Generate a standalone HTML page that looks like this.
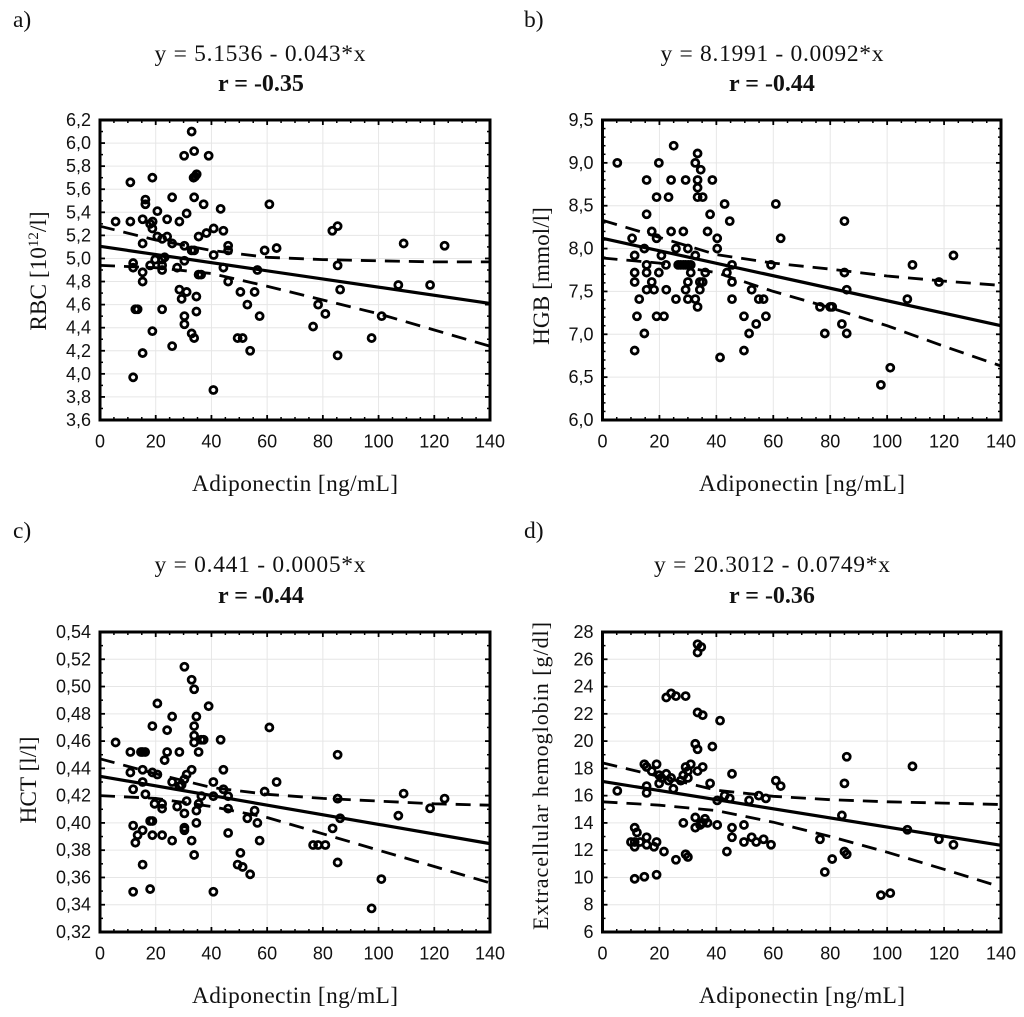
<!DOCTYPE html>
<html lang="en">
<head>
<meta charset="utf-8">
<title>Adiponectin correlations</title>
<style>
html,body{margin:0;padding:0;background:#fff;}
svg{display:block;filter:blur(0.35px);}
.serif{font-family:"Liberation Serif",serif;fill:#111;}
.sans{font-family:"Liberation Sans",sans-serif;fill:#111;}
</style>
</head>
<body>
<svg id="figure" xmlns="http://www.w3.org/2000/svg" width="1024" height="1017" viewBox="0 0 1024 1017">
  <rect width="1024" height="1017" fill="#fff"/>

  <g id="panel-a">
    <text class="serif" x="13" y="27" font-size="23.5">a)</text>
    <text class="serif" x="260" y="61" font-size="23.5" text-anchor="middle" textLength="211" lengthAdjust="spacing">y = 5.1536 - 0.043*x</text>
    <text class="serif" x="261" y="91" font-size="24" font-weight="bold" text-anchor="middle">r = -0.35</text>
    <text class="serif" x="295" y="491" font-size="23.3" text-anchor="middle" textLength="206" lengthAdjust="spacing">Adiponectin [ng/mL]</text>
    <text class="serif" transform="translate(46,271) rotate(-90)" font-size="23.3" text-anchor="middle">RBC [10<tspan font-size="15" dy="-8">12</tspan><tspan dy="8">/l]</tspan></text>
  </g>

  <g id="panel-b">
    <text class="serif" x="524" y="27" font-size="23.5">b)</text>
    <text class="serif" x="772" y="61" font-size="23.5" text-anchor="middle" textLength="223" lengthAdjust="spacing">y = 8.1991 - 0.0092*x</text>
    <text class="serif" x="772" y="91" font-size="24" font-weight="bold" text-anchor="middle">r = -0.44</text>
    <text class="serif" x="802" y="491" font-size="23.3" text-anchor="middle" textLength="206" lengthAdjust="spacing">Adiponectin [ng/mL]</text>
    <text class="serif" transform="translate(549,276) rotate(-90)" font-size="23.3" text-anchor="middle">HGB [mmol/l]</text>
  </g>

  <g id="panel-c">
    <text class="serif" x="13" y="538" font-size="23.5">c)</text>
    <text class="serif" x="260" y="572" font-size="23.5" text-anchor="middle" textLength="211" lengthAdjust="spacing">y = 0.441 - 0.0005*x</text>
    <text class="serif" x="261" y="603" font-size="24" font-weight="bold" text-anchor="middle">r = -0.44</text>
    <text class="serif" x="295" y="1003" font-size="23.3" text-anchor="middle" textLength="206" lengthAdjust="spacing">Adiponectin [ng/mL]</text>
    <text class="serif" transform="translate(36,780) rotate(-90)" font-size="23.3" text-anchor="middle">HCT [l/l]</text>
  </g>

  <g id="panel-d">
    <text class="serif" x="524" y="538" font-size="23.5">d)</text>
    <text class="serif" x="772" y="572" font-size="23.5" text-anchor="middle" textLength="236" lengthAdjust="spacing">y = 20.3012 - 0.0749*x</text>
    <text class="serif" x="772" y="603" font-size="24" font-weight="bold" text-anchor="middle">r = -0.36</text>
    <text class="serif" x="802" y="1003" font-size="23.3" text-anchor="middle" textLength="206" lengthAdjust="spacing">Adiponectin [ng/mL]</text>
    <text class="serif" transform="translate(548,776) rotate(-90)" font-size="22" text-anchor="middle" textLength="308" lengthAdjust="spacing">Extracellular hemoglobin [g/dl]</text>
  </g>
</svg>

<script>
// Shared axis values
const xTicks = [0, 20, 40, 60, 80, 100, 120, 140];
const ciX = [0, 20, 40, 60, 80, 100, 120, 140];
const fitX = [0, 140];

// Panel a: RBC
const aYTicks = [3.6, 3.8, 4.0, 4.2, 4.4, 4.6, 4.8, 5.0, 5.2, 5.4, 5.6, 5.8, 6.0, 6.2];
const aX = [32.9,30.2,33.8,39.0,34.7,34.1,33.6,18.8,10.9,16.3,16.3,25.9,33.8,37.2,43.3,60.8,20.6,31.1,5.6,10.9,15.3,18.9,18.0,18.8,24.1,28.5,40.8,38.2,35.4,44.3,20.6,24.1,22.3,25.9,15.3,30.3,46,46,59.1,63.4,32.9,33.8,40.8,23.2,19.8,22.3,30.3,11.9,11.9,18,22.3,22.3,15.3,27.7,44.3,56.5,35.4,36.3,15.3,46,28.5,31.1,29.3,34.6,50.4,55.5,52.9,57.3,12.7,13.5,22.3,34.6,30.3,30.3,18.8,32.9,33.8,49.4,51.2,53.9,25.9,15.3,11.9,40.7,85.3,83.4,109,123.7,85.3,86.2,107.1,118.5,78.3,80.9,76.5,101.1,97.5,85.3];
const aY = [6.10,5.89,5.93,5.89,5.73,5.71,5.70,5.70,5.66,5.51,5.47,5.53,5.53,5.47,5.43,5.47,5.41,5.39,5.32,5.32,5.34,5.32,5.30,5.26,5.34,5.32,5.26,5.22,5.19,5.24,5.19,5.19,5.17,5.13,5.13,5.11,5.11,5.07,5.07,5.09,5.07,5.07,5.03,5.01,4.99,4.99,4.98,4.96,4.92,4.94,4.94,4.90,4.88,4.92,4.92,4.90,4.86,4.86,4.80,4.80,4.73,4.71,4.65,4.67,4.71,4.71,4.60,4.50,4.56,4.56,4.56,4.54,4.50,4.43,4.37,4.35,4.31,4.31,4.31,4.20,4.24,4.18,3.97,3.86,5.28,5.24,5.13,5.11,4.94,4.73,4.77,4.77,4.60,4.52,4.41,4.50,4.31,4.16];
const aFit = [5.105, 4.61];
const aUpper = [5.28,5.16,5.07,5.01,4.99,4.98,4.97,4.97];
const aLower = [4.94,4.92,4.87,4.76,4.64,4.52,4.38,4.24];

// Panel b: HGB
const bYTicks = [6.0, 6.5, 7.0, 7.5, 8.0, 8.5, 9.0, 9.5];
const bX = [25,33.4,5.2,19.8,32.6,34.5,15.5,24.1,29.2,33.4,38.6,33.4,19,23.2,33.4,35.2,42.9,60.9,15.5,37.8,44.7,17.3,24.1,28.4,36.9,10.4,19,40.3,62.6,14.7,25.8,30,40.3,11.3,20.7,32.6,15.5,22.3,59.2,45.5,26.6,27.5,28.4,29.2,30.1,31,11.3,15.5,19.8,31,36.1,43.7,11.3,17.3,30,34.2,35.2,45.5,15.5,18.1,22.4,29.2,34.2,52.4,12.9,25.8,30,32.6,45.5,54.9,56.6,33.4,12.1,19,21.6,49.7,57.4,54,14.7,51.5,11.3,49.7,41.3,85,123.3,108.9,85,118.2,85.8,107.1,76.4,80.7,80,84.1,78.1,85.8,101.1,97.8];
const bY = [9.20,9.11,9.0,9.0,9.0,8.92,8.80,8.80,8.80,8.80,8.80,8.71,8.60,8.60,8.60,8.60,8.52,8.52,8.40,8.40,8.32,8.20,8.20,8.20,8.20,8.12,8.12,8.12,8.12,8.0,8.0,8.0,8.0,7.92,7.92,7.92,7.81,7.81,7.81,7.81,7.81,7.81,7.81,7.81,7.81,7.81,7.72,7.72,7.72,7.72,7.72,7.72,7.61,7.61,7.61,7.61,7.61,7.61,7.52,7.52,7.52,7.52,7.52,7.52,7.41,7.41,7.41,7.41,7.41,7.41,7.41,7.32,7.21,7.21,7.21,7.21,7.21,7.12,7.01,7.01,6.81,6.81,6.73,8.32,7.92,7.81,7.72,7.61,7.52,7.41,7.32,7.32,7.32,7.12,7.01,7.01,6.61,6.41];
const bFit = [8.12, 7.10];
const bUpper = [8.33,8.13,7.93,7.83,7.76,7.68,7.62,7.57];
const bLower = [7.89,7.83,7.72,7.50,7.31,7.10,6.86,6.63];

// Panel c: HCT
const cYTicks = [0.32,0.34,0.36,0.38,0.40,0.42,0.44,0.46,0.48,0.50,0.52,0.54];
const cX = [30.3,32.9,33.8,20.6,39,25.9,34.6,18.8,33.8,24.1,60.8,33.8,36.3,37.2,43.3,33.8,5.6,10.9,14.7,15.3,16.2,24.1,28.5,35.4,23.2,15.3,32.9,44.3,10.9,18.8,20.6,31.1,30.3,15.3,25.9,40.7,63.4,29.3,28.5,11.9,44.3,59.1,16.3,46,36.4,40.7,31.1,19.6,22.3,35.4,27.7,22.3,46,30.3,34.6,55.5,52.9,56.5,18,18.8,34.6,11.9,15.3,30.3,30.3,46,13.5,18.8,22.3,12.7,25.9,32.9,57.3,50.4,33.8,15.3,49.4,51.2,53.9,11.9,18,40.7,85.3,109,85.3,85.3,123.7,118.5,107.1,86.2,83.5,76.5,78.3,80.9,85.3,101,97.5];
const cY = [0.5145,0.505,0.498,0.4876,0.4856,0.478,0.478,0.471,0.471,0.468,0.470,0.464,0.461,0.461,0.461,0.459,0.459,0.452,0.452,0.452,0.452,0.452,0.452,0.452,0.446,0.439,0.439,0.439,0.437,0.437,0.4355,0.4355,0.432,0.430,0.430,0.430,0.430,0.428,0.427,0.4247,0.4247,0.423,0.421,0.4196,0.4196,0.4196,0.416,0.414,0.414,0.414,0.412,0.4105,0.4105,0.407,0.409,0.409,0.4034,0.400,0.4014,0.4014,0.400,0.398,0.3946,0.3965,0.3946,0.3926,0.391,0.391,0.391,0.3855,0.387,0.387,0.387,0.378,0.3765,0.3694,0.3694,0.3677,0.3623,0.3495,0.3515,0.3495,0.450,0.4215,0.4178,0.4178,0.4178,0.4107,0.4053,0.4034,0.396,0.3838,0.3838,0.3838,0.371,0.3588,0.3373];
const cFit = [0.4342, 0.3848];
const cUpper = [0.447,0.436,0.426,0.421,0.418,0.416,0.414,0.413];
const cLower = [0.420,0.418,0.412,0.404,0.392,0.380,0.368,0.356];

// Panel d: extracellular hemoglobin
const dYTicks = [6,8,10,12,14,16,18,20,22,24,26,28];
const dX = [33.4,34.7,33.4,24.1,22.4,25.8,29.2,33.4,35.2,41.3,32.6,33.4,38.6,14.7,15.5,19,31,29.2,35.2,17.3,33.4,30,45.5,22.4,19.9,28.4,24.1,23.2,20.7,30,27.5,60.9,37.8,19.9,62.6,15.5,24.9,15.5,5.2,42.9,54.9,44.7,57.4,40.3,51.5,32.6,36,35.2,36.9,34.3,32.6,28.4,40.3,49.7,45.5,11.3,12.1,45.5,15.5,52.4,56.6,19,49.7,54,59.2,15.5,10,11.3,11.3,18.1,13.2,21.6,43.7,29.2,30,25.8,11.3,14.7,19,85.8,108.9,85,84.1,107.1,118.2,123.3,76.4,85,85.8,80.7,78.1,101.1,97.8];
const dY = [27.1,26.9,26.5,23.5,23.2,23.3,23.3,22.1,21.9,21.5,19.8,19.4,19.6,18.3,18.1,18.3,18.3,18.1,18.1,17.8,17.8,17.8,17.6,17.6,17.5,17.5,17.3,17.1,17.3,17.3,17.1,17.1,16.9,16.9,16.7,16.7,16.5,16.2,16.35,16.0,16.0,15.8,15.8,15.65,15.65,14.4,14.3,14.0,14.0,13.85,13.65,14.0,13.85,13.85,13.65,13.65,13.3,12.95,12.95,12.95,12.8,12.6,12.6,12.6,12.4,12.4,12.6,12.6,12.25,12.25,12.6,11.9,11.9,11.7,11.5,11.3,9.9,10.05,10.2,18.85,18.15,16.9,14.55,13.5,12.8,12.4,12.8,11.9,11.7,11.35,10.4,8.85,8.7];
const dFit = [17.04, 12.36];
const dUpper = [18.4,17.4,16.4,15.95,15.7,15.55,15.45,15.35];
const dLower = [15.55,15.3,14.9,14.05,13,11.85,10.6,9.3];

const NS = 'http://www.w3.org/2000/svg';

function make(parent, tag, attrs) {
  const el = document.createElementNS(NS, tag);
  for (const k in attrs) el.setAttribute(k, attrs[k]);
  parent.appendChild(el);
  return el;
}

function drawPanel(cfg) {
  const group = document.getElementById('panel-' + cfg.id);
  const sx = v => cfg.left + (v - 0) / 140 * (cfg.right - cfg.left);
  const sy = v => cfg.bottom - (v - cfg.yMin) / (cfg.yMax - cfg.yMin) * (cfg.bottom - cfg.top);

  // Grid
  const grid = make(group, 'g', {stroke: '#e6e6e6', 'stroke-width': 1, fill: 'none'});
  
  
  xTicks.slice(1, -1).forEach(v => {
    const line = make(grid, 'line', {x1: sx(v), x2: sx(v), y1: cfg.top, y2: cfg.bottom});
    
    
  });
  cfg.yTicks.slice(1, -1).forEach(v => {
    const line = make(grid, 'line', {x1: cfg.left, x2: cfg.right, y1: sy(v), y2: sy(v)});
    
    
  });

  // Ticks, inward on all four sides
  const ticks = make(group, 'g', {stroke: '#000', fill: 'none'});
  
  
  for (let i = 0; i < xTicks.length - 1; i++) {
    for (let j = 0; j < 4; j++) {
      const v = xTicks[i] + (xTicks[i + 1] - xTicks[i]) * j / 4;
      const len = j === 0 ? 5 : 3;
      const w = j === 0 ? 1.8 : 1.5;
      make(ticks, 'line', {x1: sx(v), x2: sx(v), y1: cfg.bottom, y2: cfg.bottom - len, 'stroke-width': w});
      make(ticks, 'line', {x1: sx(v), x2: sx(v), y1: cfg.top, y2: cfg.top + len, 'stroke-width': w});
    }
  }
  for (let i = 0; i < cfg.yTicks.length - 1; i++) {
    for (let j = 0; j < cfg.yMinor; j++) {
      const v = cfg.yTicks[i] + (cfg.yTicks[i + 1] - cfg.yTicks[i]) * j / cfg.yMinor;
      const len = j === 0 ? 5 : 3;
      const w = j === 0 ? 1.8 : 1.5;
      make(ticks, 'line', {x1: cfg.left, x2: cfg.left + len, y1: sy(v), y2: sy(v), 'stroke-width': w});
      make(ticks, 'line', {x1: cfg.right, x2: cfg.right - len, y1: sy(v), y2: sy(v), 'stroke-width': w});
    }
  }

  // Tick labels
  xTicks.forEach(v => {
    const t = make(group, 'text', {x: sx(v), y: cfg.bottom + 27.5, 'font-size': 18, 'text-anchor': 'middle', class: 'sans'});
    t.textContent = String(v);
    
    
  });
  cfg.yTicks.forEach(v => {
    const t = make(group, 'text', {x: cfg.left - 9, y: sy(v) + 6, 'font-size': 18, 'text-anchor': 'end', class: 'sans'});
    t.textContent = v.toFixed(cfg.yDigits).replace('.', ',');
    
    
  });

  // Points
  const pts = make(group, 'g', {fill: 'none', stroke: '#000', 'stroke-width': 2.8});
  
  
  cfg.xs.forEach((xv, i) => {
    const c = make(pts, 'circle', {cx: sx(xv), cy: sy(cfg.ys[i]), r: 3.5});
    
    
  });

  // Confidence bands
  const poly = vals => ciX.map((xv, i) => sx(xv).toFixed(1) + ',' + sy(vals[i]).toFixed(1)).join(' ');
  const up = make(group, 'polyline', {points: poly(cfg.upper), fill: 'none', stroke: '#000', 'stroke-width': 2.8, 'stroke-dasharray': '15 9'});
  
  
  const lo = make(group, 'polyline', {points: poly(cfg.lower), fill: 'none', stroke: '#000', 'stroke-width': 2.8, 'stroke-dasharray': '15 9'});
  
  

  // Regression line
  const fit = make(group, 'line', {x1: sx(fitX[0]), y1: sy(cfg.fit[0]), x2: sx(fitX[1]), y2: sy(cfg.fit[1]), stroke: '#000', 'stroke-width': 3.2});
  
  

  // Frame
  const frame = make(group, 'rect', {x: cfg.left, y: cfg.top, width: cfg.right - cfg.left, height: cfg.bottom - cfg.top, fill: 'none', stroke: '#000', 'stroke-width': 3});
  
  
}

drawPanel({id: 'a', left: 100, right: 490, top: 120, bottom: 420, yMin: 3.6, yMax: 6.2, yTicks: aYTicks, yMinor: 2, yDigits: 1, xs: aX, ys: aY, fit: aFit, upper: aUpper, lower: aLower});
drawPanel({id: 'b', left: 602.5, right: 1001, top: 120, bottom: 420, yMin: 6, yMax: 9.5, yTicks: bYTicks, yMinor: 5, yDigits: 1, xs: bX, ys: bY, fit: bFit, upper: bUpper, lower: bLower});
drawPanel({id: 'c', left: 100, right: 490, top: 632, bottom: 932, yMin: 0.32, yMax: 0.54, yTicks: cYTicks, yMinor: 2, yDigits: 2, xs: cX, ys: cY, fit: cFit, upper: cUpper, lower: cLower});
drawPanel({id: 'd', left: 602.5, right: 1001, top: 632, bottom: 932, yMin: 6, yMax: 28, yTicks: dYTicks, yMinor: 2, yDigits: 0, xs: dX, ys: dY, fit: dFit, upper: dUpper, lower: dLower});
</script>
</body>
</html>
